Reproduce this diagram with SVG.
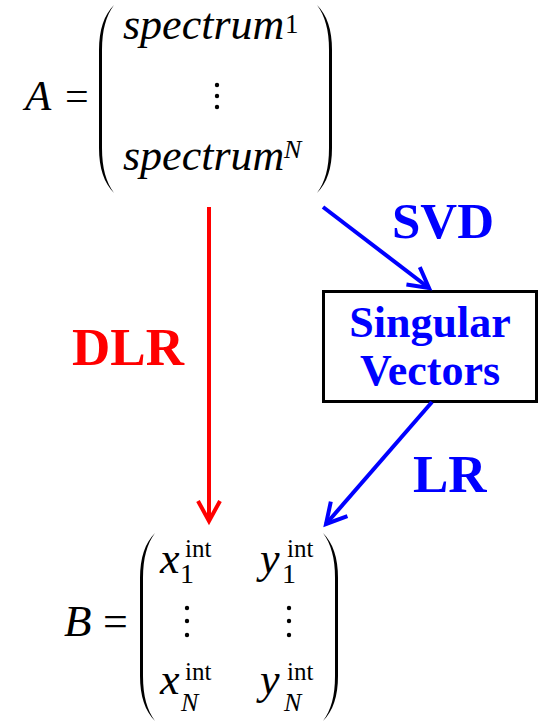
<svg xmlns="http://www.w3.org/2000/svg" width="539" height="721" viewBox="0 0 539 721">
<style>
.m{font-family:"Liberation Serif","Times New Roman",serif;fill:#000}
.i{font-style:italic}
.lab{font-family:"Liberation Serif","Times New Roman",serif;font-weight:bold}
.blue{fill:#0000FF}
.red{fill:#FF0000}
.c{stroke-width:4;fill:none}
</style>
<defs>
<path id="paren" d="M15,0 C5,10 0,25 0,45 L0,143 C0,163 5,178 15,188 C7,177 3,163 3,143 L3,45 C3,25 7,11 15,0 Z" fill="#000"/>
<marker id="ahR" markerUnits="userSpaceOnUse" markerWidth="40" markerHeight="40" viewBox="-30 -20 40 40" refX="0" refY="0" orient="auto" overflow="visible">
<path d="M-20,-11 L0,0 L-20,11" fill="none" stroke="#FF0000" stroke-width="4" stroke-linejoin="miter"/>
</marker>
<marker id="ahB" markerUnits="userSpaceOnUse" markerWidth="40" markerHeight="40" viewBox="-30 -20 40 40" refX="0" refY="0" orient="auto" overflow="visible">
<path d="M-20,-11 L0,0 L-20,11" fill="none" stroke="#0000FF" stroke-width="4" stroke-linejoin="miter"/>
</marker>
</defs>
<rect width="539" height="721" fill="#fff"/>
<g id="matrixA">
<text class="m i" x="25" y="110" font-size="43">A</text>
<text class="m" x="65" y="110" font-size="42">=</text>
<use href="#paren" transform="translate(99,5)"/>
<use href="#paren" transform="translate(332,5) scale(-1,1)"/>
<text class="m i" x="123" y="39" font-size="44">spectrum</text>
<text class="m" x="285" y="33" font-size="27">1</text>
<circle cx="217" cy="85" r="2.2"/>
<circle cx="217" cy="96" r="2.2"/>
<circle cx="217" cy="107" r="2.2"/>
<text class="m i" x="123" y="170" font-size="44">spectrum</text>
<text class="m i" x="284" y="158" font-size="26">N</text>
</g>
<g id="matrixB">
<text class="m i" x="64" y="636" font-size="45">B</text>
<text class="m" x="103" y="636" font-size="44">=</text>
<use href="#paren" transform="translate(140,533)"/>
<use href="#paren" transform="translate(338,533) scale(-1,1)"/>
<text class="m i" x="160" y="573" font-size="44">x</text>
<text class="m" x="180" y="583" font-size="28">1</text>
<text class="m" x="185" y="557" font-size="25">int</text>
<text class="m i" x="260" y="573" font-size="44">y</text>
<text class="m" x="282" y="583" font-size="28">1</text>
<text class="m" x="287" y="557" font-size="25">int</text>
<circle cx="187" cy="608" r="2.2"/>
<circle cx="187" cy="621" r="2.2"/>
<circle cx="187" cy="635" r="2.2"/>
<circle cx="289" cy="608" r="2.2"/>
<circle cx="289" cy="621" r="2.2"/>
<circle cx="289" cy="635" r="2.2"/>
<text class="m i" x="160" y="694" font-size="44">x</text>
<text class="m i" x="181" y="711" font-size="26">N</text>
<text class="m" x="185" y="680" font-size="25">int</text>
<text class="m i" x="260" y="694" font-size="44">y</text>
<text class="m i" x="284" y="711" font-size="26">N</text>
<text class="m" x="287" y="680" font-size="25">int</text>
</g>
<g id="svdBox">
<rect x="323.5" y="291.5" width="213" height="110" fill="#fff" stroke="#000" stroke-width="3"/>
<text class="lab blue" x="430" y="337" font-size="44" text-anchor="middle">Singular</text>
<text class="lab blue" x="430" y="385" font-size="44" text-anchor="middle">Vectors</text>
</g>
<g id="connectors">
<line class="c" x1="209" y1="207" x2="209" y2="521" stroke="#FF0000" marker-end="url(#ahR)"/>
<line class="c" x1="323" y1="207" x2="429" y2="288" stroke="#0000FF" marker-end="url(#ahB)"/>
<line class="c" x1="432" y1="402" x2="326" y2="524" stroke="#0000FF" marker-end="url(#ahB)"/>
</g>
<g id="labels">
<text class="lab red" x="72" y="365" font-size="53">DLR</text>
<text class="lab blue" x="392" y="238" font-size="51">SVD</text>
<text class="lab blue" x="413" y="492" font-size="53">LR</text>
</g>
</svg>
